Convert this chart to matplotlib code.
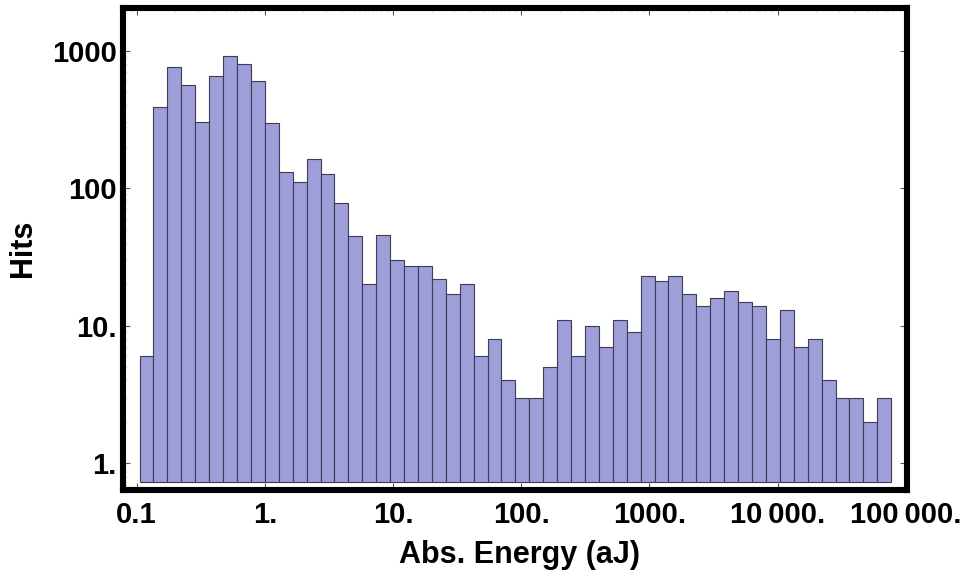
import numpy as np
import matplotlib
matplotlib.use("Agg")
import matplotlib.pyplot as plt
from matplotlib.ticker import LogLocator, NullFormatter

# hits per logarithmic energy bin (bins are 0.25 wide in ln(E), first edge at ln(E) = -2.25)
hits = [6, 390, 760, 560, 300, 650, 920, 800, 600, 295,
        130, 110, 163, 126, 78, 45, 20, 46, 30, 27,
        27, 22, 17, 20, 6, 8, 4, 3, 3, 5,
        11, 6, 10, 7, 11, 9, 23, 21, 23, 17,
        14, 16, 18, 15, 14, 8, 13, 7, 8, 4,
        3, 3, 2, 3]
ln_start = -2.25
ln_width = 0.25

x_ticks = [0.1, 1, 10, 100, 1000, 10000, 100000]
x_tick_labels = ["0.1", "1.", "10.", "100.", "1000.", "10\u2009000.", "100\u2009000."]
y_ticks = [1, 10, 100, 1000]
y_tick_labels = ["1.", "10.", "100", "1000"]

plt.rcParams['font.family'] = ['Liberation Sans', 'DejaVu Sans']
plt.rcParams['font.weight'] = 'bold'

edges = np.exp(ln_start + ln_width * np.arange(len(hits) + 1))

fig = plt.figure(figsize=(9.72, 5.75), dpi=100)
ax = fig.add_axes([0.1265, 0.1478, 0.8066, 0.8391])

base = 0.735
ax.bar(edges[:-1], np.array(hits) - base, width=np.diff(edges), bottom=base,
       align='edge', color='#9e9ed8', edgecolor='#3c3c58', linewidth=0.8)

ax.set_xscale('log')
ax.set_yscale('log')
ax.set_xlim(0.0782, 102100)
ax.set_ylim(0.640, 2053)

ax.set_xticks(x_ticks, x_tick_labels)
ax.set_yticks(y_ticks, y_tick_labels)
ax.xaxis.set_minor_locator(LogLocator(base=10, subs=range(2, 10)))
ax.yaxis.set_minor_locator(LogLocator(base=10, subs=range(2, 10)))
ax.xaxis.set_minor_formatter(NullFormatter())
ax.yaxis.set_minor_formatter(NullFormatter())

ax.tick_params(which='both', direction='in', top=True, right=True, color='#555555')
ax.tick_params(which='major', length=5, width=0.8)
ax.tick_params(which='minor', length=2.5, width=0.5)
ax.tick_params(axis='x', which='major', labelsize=21, pad=8)
ax.tick_params(axis='y', which='major', labelsize=21, pad=4.5)

for sp in ax.spines.values():
    sp.set_linewidth(4.4)
    sp.set_color('black')
    sp.set_capstyle('projecting')

fig.text(0.534, 0.0209, "Abs. Energy (aJ)", ha='center', va='baseline',
         fontsize=22, fontweight='bold')
fig.text(0.024, 0.568, "Hits", ha='center', va='center', rotation=90,
         fontsize=22, fontweight='bold')

fig.savefig("out.png", dpi=100)
